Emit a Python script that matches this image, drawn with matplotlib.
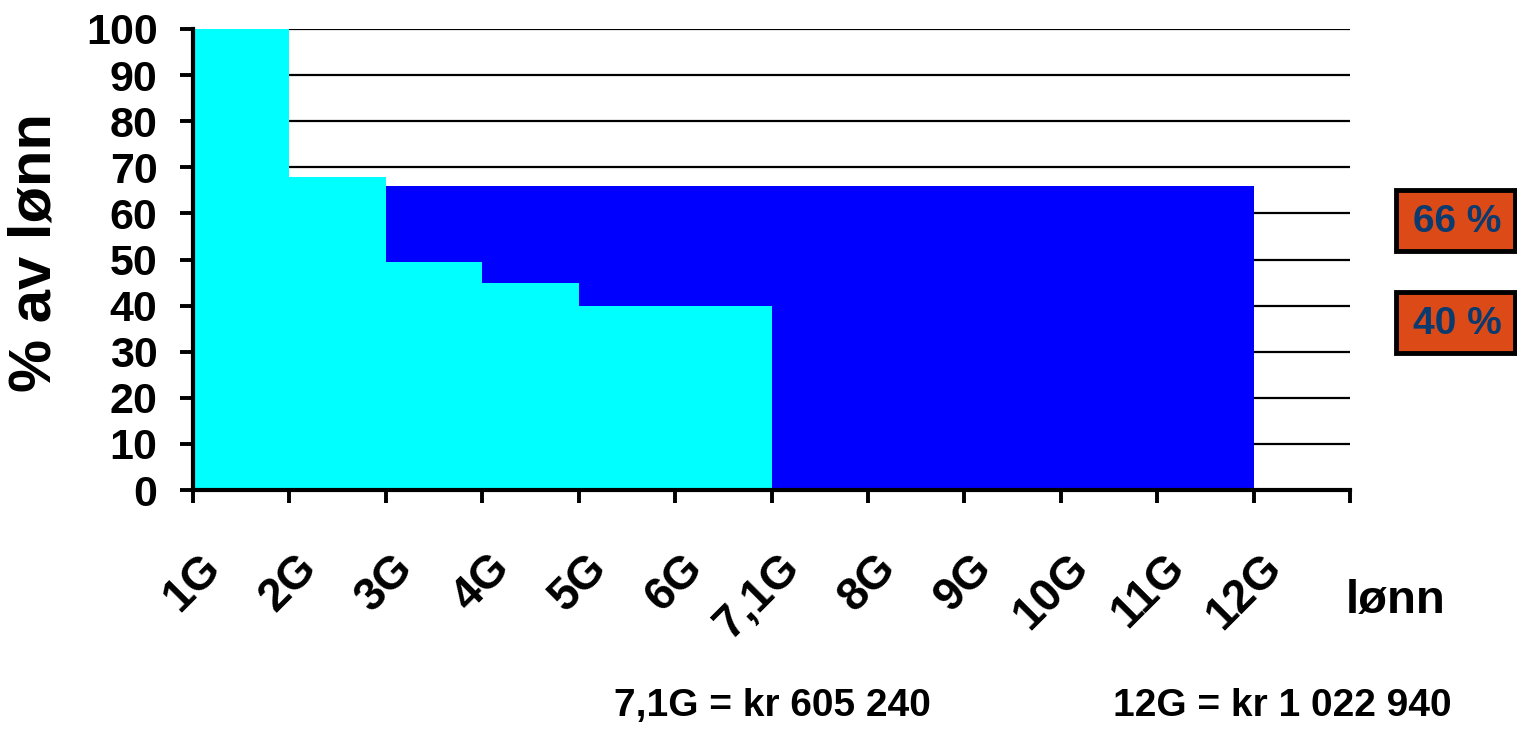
import matplotlib.pyplot as plt
from matplotlib.patches import Rectangle
from matplotlib.transforms import blended_transform_factory

# Data
x_labels = ['1G', '2G', '3G', '4G', '5G', '6G', '7,1G', '8G', '9G', '10G', '11G', '12G']
cyan_start = [0, 1, 2, 3, 4, 5]          # slot index where each cyan step starts
cyan_values = [100, 68, 49.5, 45, 40, 40]  # % av lønn
blue_start = [2, 3, 4, 5, 6, 7, 8, 9, 10]
blue_values = [66, 66, 66, 66, 66, 66, 66, 66, 66]
y_ticks = [0, 10, 20, 30, 40, 50, 60, 70, 80, 90, 100]
box_labels = ['66 %', '40 %']
notes = ['7,1G = kr 605 240', '12G = kr 1 022 940']

plt.rcParams['font.family'] = 'Liberation Sans'
plt.rcParams['font.weight'] = 'bold'

fig = plt.figure(figsize=(15.17, 7.34), dpi=100)
ax = fig.add_axes([193 / 1517, 1 - 490 / 734, 1157 / 1517, 461 / 734])

ax.bar(blue_start, blue_values, width=1, align='edge', color='#0000FF', zorder=2)
ax.bar(cyan_start, cyan_values, width=1, align='edge', color='#00FFFF', zorder=3)

ax.set_xlim(0, 12)
ax.set_ylim(0, 100)
ax.set_yticks(y_ticks)
ax.set_yticklabels([str(v) for v in y_ticks], fontsize=31, fontweight='bold')
ax.set_xticks(range(13))
ax.set_xticklabels([])

ax.yaxis.grid(True, color='black', lw=1.6)
ax.set_axisbelow(True)

for s in ['top', 'right']:
    ax.spines[s].set_visible(False)
for s in ['left', 'bottom']:
    ax.spines[s].set_linewidth(3)
    ax.spines[s].set_zorder(5)
ax.tick_params(axis='y', length=9.5, width=2.8, pad=16)
ax.tick_params(axis='x', length=9.5, width=2.8)

# rotated x labels
trans = blended_transform_factory(ax.transData, ax.transAxes)
for i, lab in enumerate(x_labels):
    ax.text(i + 0.22, -0.155, lab, transform=trans, rotation=45, ha='right', va='center',
            rotation_mode='anchor', fontsize=33, fontweight='bold', clip_on=False)

fig.text(35 / 1517, 1 - 253 / 734, '% av lønn', rotation=90, ha='center', va='center',
         fontsize=43, fontweight='bold')
fig.text(1396 / 1517, 1 - 613 / 734, 'lønn', ha='center', va='baseline',
         fontsize=34, fontweight='bold')

# boxes on right
box_tops = [190, 292]
for lab, top in zip(box_labels, box_tops):
    rect = Rectangle((1396 / 1517, 1 - (top + 61) / 734), 119 / 1517, 61 / 734,
                     transform=fig.transFigure, facecolor='#DC4A17', edgecolor='black',
                     lw=3.5)
    fig.patches.append(rect)
    fig.text(1457 / 1517, 1 - (top + 32) / 734, lab, ha='center', va='center',
             fontsize=28, fontweight='bold', color='#0B3A6E')

fig.text(772 / 1517, 1 - 716 / 734, notes[0], ha='center', va='baseline',
         fontsize=28, fontweight='bold')
fig.text(1282 / 1517, 1 - 716 / 734, notes[1], ha='center', va='baseline',
         fontsize=28, fontweight='bold')

fig.savefig('out.png', dpi=100)
